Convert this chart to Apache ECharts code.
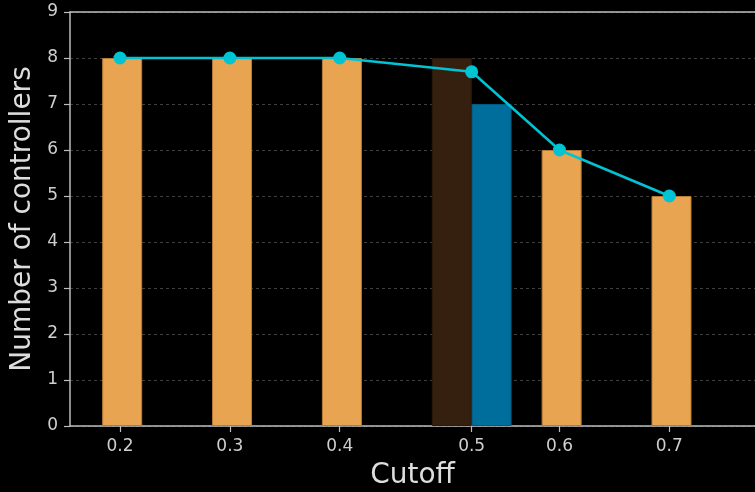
<!DOCTYPE html>
<html>
<head>
<meta charset="utf-8">
<script src="https://cdn.jsdelivr.net/npm/echarts@6/dist/echarts.min.js"></script>
<style>
html,body{margin:0;padding:0;background:#000;}
#c{width:755px;height:492px;}
</style>
</head>
<body>
<div id="c"></div>
<script>
// Data
var categories = ['0.2', '0.3', '0.4', '0.5', '0.6', '0.7'];
var barValues = [8, 8, 8, null, 6, 5];        // orange bars
var splitCategory = '0.5';
var splitBefore = 8;                           // dark brown bar at 0.5
var splitAfter = 7;                            // blue bar at 0.5
var lineValues = [8, 8, 8, 7.7, 6, 5];         // cyan line
var yTicks = [0, 1, 2, 3, 4, 5, 6, 7, 8, 9];

// Layout helpers (in category-index units)
var barW = 0.362;    // bar width relative to category spacing
var shift = 0.02;    // small bar offset
var splitIdx = categories.indexOf(splitCategory);

var tickPos = categories.map(function (c, i) {
  return i === splitIdx ? i + shift + barW / 2 : i;
});

var barData = [];
categories.forEach(function (c, i) {
  if (i === splitIdx) {
    barData.push({ value: [i + shift, splitBefore], itemStyle: { color: '#35200f', borderColor: '#2a190b' } });
    barData.push({ value: [i + shift + barW, splitAfter], itemStyle: { color: '#006e9c', borderColor: '#005a80' } });
  } else {
    barData.push({ value: [i + shift, barValues[i]] });
  }
});
var lineData = lineValues.map(function (v, i) { return [tickPos[i], v]; });

var xMin = -0.455, xMax = 5.78;
var font = 'DejaVu Sans';

var chart = echarts.init(document.getElementById('c'), null, { renderer: 'canvas' });
chart.setOption({
  backgroundColor: '#000',
  animation: false,
  grid: { left: 70, right: 0, top: 12, bottom: 66, containLabel: false, outerBoundsMode: 'none' },
  xAxis: [{
    type: 'value',
    min: xMin, max: xMax,
    name: 'Cutoff',
    nameLocation: 'middle',
    nameGap: 36,
    nameTextStyle: { color: '#dddddd', fontSize: 28, fontFamily: font },
    axisLine: { show: true, onZero: false, lineStyle: { color: '#bdbdbd', width: 1.5 } },
    axisTick: { show: true, length: 6, customValues: tickPos, lineStyle: { color: '#bdbdbd', width: 1.2 } },
    axisLabel: {
      show: true, customValues: tickPos, margin: 12,
      color: '#cfcfcf', fontSize: 17, fontFamily: font,
      formatter: function (v) {
        for (var i = 0; i < tickPos.length; i++) {
          if (Math.abs(tickPos[i] - v) < 1e-6) return categories[i];
        }
        return '';
      }
    },
    splitLine: { show: false }
  }, {
    type: 'value',
    position: 'top',
    min: xMin, max: xMax,
    axisLine: { show: true, onZero: false, lineStyle: { color: '#bdbdbd', width: 1.5 } },
    axisTick: { show: false },
    axisLabel: { show: false },
    splitLine: { show: false }
  }],
  yAxis: {
    type: 'value',
    min: yTicks[0], max: yTicks[yTicks.length - 1], interval: 1,
    name: 'Number of controllers',
    nameLocation: 'middle',
    nameGap: 32,
    nameTextStyle: { color: '#dddddd', fontSize: 28, fontFamily: font },
    axisLine: { show: true, onZero: false, lineStyle: { color: '#bdbdbd', width: 1.5 } },
    axisTick: { show: true, length: 6, lineStyle: { color: '#bdbdbd', width: 1.2 } },
    axisLabel: { color: '#cfcfcf', fontSize: 17, fontFamily: font, margin: 12 },
    splitLine: { show: true, lineStyle: { color: '#404040', type: [3, 3], width: 1 } }
  },
  series: [{
    type: 'bar',
    xAxisIndex: 0,
    barWidth: 40,
    data: barData,
    itemStyle: { color: '#e8a450', borderColor: '#b97c35', borderWidth: 1 },
    z: 2
  }, {
    type: 'line',
    xAxisIndex: 0,
    data: lineData,
    symbol: 'circle',
    symbolSize: 13,
    lineStyle: { color: '#00c4d4', width: 2.5 },
    itemStyle: { color: '#00c4d4' },
    z: 5
  }]
});
</script>
</body>
</html>
